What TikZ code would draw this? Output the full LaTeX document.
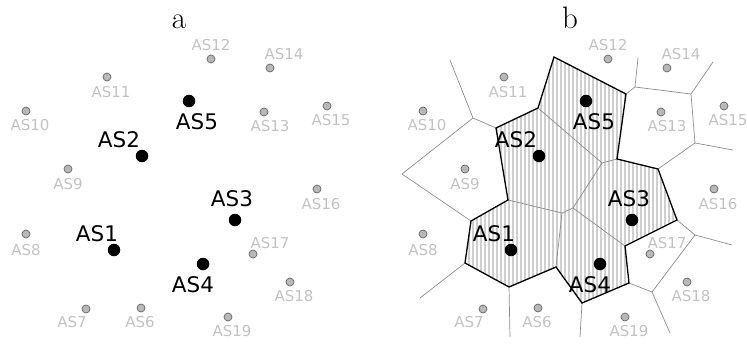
\documentclass[tikz,border=0pt]{standalone}
\usepackage{fontspec}
\newfontfamily\asfont{DejaVu Sans}
\begin{document}
\begin{tikzpicture}[x=1pt, y=-1pt,
    bigdot/.style={circle, fill=black, inner sep=0pt, minimum size=12.5pt},
    smalldot/.style={circle, draw=black!60, fill=black!28, line width=0.7pt, inner sep=0pt, minimum size=8pt},
    biglabel/.style={font=\asfont\fontsize{21.5}{21.5}\selectfont, text=black, inner sep=0pt},
    smalllabel/.style={font=\asfont\fontsize{15}{15}\selectfont, text=black!24, inner sep=0pt},
    paneltitle/.style={font=\fontsize{31}{31}\selectfont, inner sep=0pt, anchor=base},
    thinedge/.style={draw=black!45, line width=0.7pt},
    thickedge/.style={draw=black, line width=1.3pt, line join=miter},
    stripe/.style={draw=black!19, line width=2pt}
]
    \useasboundingbox (0,0) rectangle (747,343);

    % Panel titles
    \node[paneltitle] (titlea) at (179,28) {a};
    \node[paneltitle] (titleb) at (570,28) {b};

    % Voronoi cells of panel b
    \begin{scope}[xshift=397pt]
        \coordinate (v1) at (157,57);
        \coordinate (v2) at (229,94);
        \coordinate (v3) at (220,159);
        \coordinate (v4) at (261,169);
        \coordinate (v5) at (280,220);
        \coordinate (v6) at (228,246);
        \coordinate (v7) at (232,283);
        \coordinate (v8) at (185,303);
        \coordinate (v9) at (159,267);
        \coordinate (v10) at (112,287);
        \coordinate (v11) at (68,263);
        \coordinate (v12) at (74,221);
        \coordinate (v13) at (111,200);
        \coordinate (v14) at (99,128);
        \coordinate (v15) at (141,108);
        \coordinate (i1) at (205,163);
        \coordinate (i2) at (176,208);
        \coordinate (i3) at (165,213);
        \coordinate (o1) at (76,118);
        \coordinate (o2) at (5,174);
        \coordinate (o3) at (255,292);
        \coordinate (o4) at (298,235);
        \coordinate (o5) at (298,143);
        \coordinate (o6) at (294,94);
        \coordinate (o7) at (238,87);

        % striped region of AS1--AS5
        \begin{scope}
            \clip (v1) -- (v2) -- (v3) -- (v4) -- (v5) -- (v6) -- (v7) -- (v8)
                -- (v9) -- (v10) -- (v11) -- (v12) -- (v13) -- (v14) -- (v15) -- cycle;
            \foreach \x in {60,64,...,290}
                \draw[stripe] (\x,50) -- (\x,310);
        \end{scope}

        % inner borders
        \draw[thinedge] (v15) -- (i1) -- (v3);
        \draw[thinedge] (i1) -- (i2) -- (i3);
        \draw[thinedge] (v13) -- (i3) -- (v9);
        \draw[thinedge] (i2) -- (v6);

        % outer borders
        \draw[thinedge] (v14) -- (o1) -- (53,60);
        \draw[thinedge] (o1) -- (o2) -- (v12);
        \draw[thinedge] (v11) -- (23,298);
        \draw[thinedge] (v10) -- (113,337);
        \draw[thinedge] (v8) -- (183,337);
        \draw[thinedge] (v7) -- (o3) -- (273,333);
        \draw[thinedge] (o3) -- (o4) -- (335,245);
        \draw[thinedge] (v5) -- (o4);
        \draw[thinedge] (v4) -- (o5) -- (336,150);
        \draw[thinedge] (o5) -- (o6) -- (316,62);
        \draw[thinedge] (o6) -- (o7) -- (v2);
        \draw[thinedge] (o7) -- (241,58);

        % outline
        \draw[thickedge] (v1) -- (v2) -- (v3) -- (v4) -- (v5) -- (v6) -- (v7) -- (v8)
            -- (v9) -- (v10) -- (v11) -- (v12) -- (v13) -- (v14) -- (v15) -- cycle;
    \end{scope}

    % ASes in both panels
    \foreach \p/\dx in {a/0, b/397} {
        \begin{scope}[xshift=\dx pt]
            \foreach \n/\px/\py/\lx/\ly in {12/211/59/211/45, 14/270/68/284/54,
                11/107/77/111/92.5, 10/26/111/30/125, 13/264/112/270/126,
                15/327/106/331/120, 9/68/169/68/184, 16/317/189/321/204,
                8/26/234/26/250, 17/253/254/270/243, 18/290/282/294/296,
                7/86/309/72/322, 6/141/308/140/322, 19/228/317/232/331} {
                \node[smalldot] (\p dot\n) at (\px,\py) {};
                \node[smalllabel] (\p lab\n) at (\lx,\ly) {AS\n};
            }
            \foreach \n/\px/\py/\lx/\ly in {5/189/101/197/122, 2/142/156/119/140,
                3/235/220/232/199, 1/114/250/97/234, 4/203/264/193/285} {
                \node[bigdot] (\p dot\n) at (\px,\py) {};
                \node[biglabel] (\p lab\n) at (\lx,\ly) {AS\n};
            }
        \end{scope}
    }
\end{tikzpicture}
\end{document}
